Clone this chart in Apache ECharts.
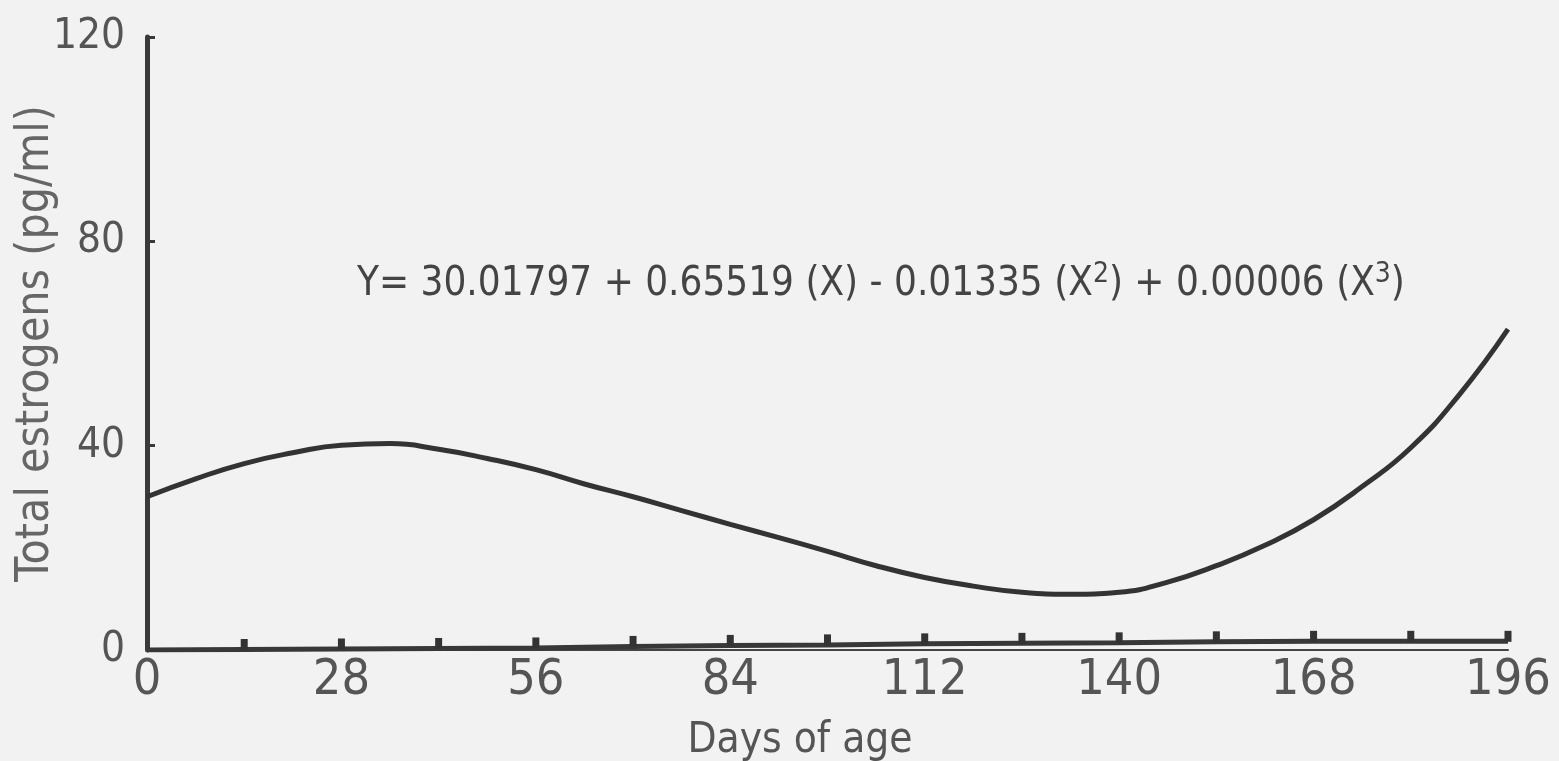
<!DOCTYPE html>
<html>
<head>
<meta charset="utf-8">
<script src="https://cdn.jsdelivr.net/npm/echarts@6/dist/echarts.min.js"></script>
<style>
html,body{margin:0;padding:0;background:#f2f2f2;}
#chart{width:1559px;height:761px;}
</style>
</head>
<body>
<div id="chart"></div>
<script>
// Fitted cubic curve, days of age vs total estrogens
const curveDays = [0,7,14,21,28,35,42,49,56,63,70,77,84,91,98,105,112,119,126,133,140,147,154,161,168,175,182,189,196];
const curveValues = [30.0,33.5,36.5,38.6,40.1,40.4,39.3,37.5,35.3,32.5,30.0,27.3,24.6,22.0,19.3,16.5,14.2,12.5,11.3,10.9,11.3,13.3,16.5,20.5,25.5,32.0,39.6,50.0,62.8];
// Near-zero observed series with small markers
const lowDays = [0,14,28,42,56,70,84,98,112,126,140,154,168,182,196];
const lowValues = [0,0.1,0.2,0.3,0.4,0.7,0.9,1.0,1.2,1.3,1.4,1.6,1.7,1.7,1.7];
const xTicks = [0,28,56,84,112,140,168,196];
const yTicks = [0,40,80,120];
const equationParts = ['Y= 30.01797 + 0.65519 (X) - 0.01335 (X', '2', ') + 0.00006 (X', '3', ')'];

const FONT = '"Liberation Sans Narrow","DejaVu Sans Condensed","Open Sans",sans-serif';
const chart = echarts.init(document.getElementById('chart'));
chart.setOption({
  backgroundColor: '#f2f2f2',
  animation: false,
  grid: {left: 147, right: 51, top: 37, bottom: 111, containLabel: false, outerBoundsMode: 'none'},
  xAxis: {
    type: 'value', min: 0, max: 196, interval: 28,
    name: 'Days of age', nameLocation: 'middle', nameGap: 70, nameMoveOverlap: false,
    nameTextStyle: {fontFamily: FONT, fontSize: 42, color: '#555', padding: [0, 55, 0, 0]},
    axisLine: {show: true, onZero: false, lineStyle: {color: '#444', width: 2}},
    axisTick: {show: false},
    splitLine: {show: false},
    axisLabel: {fontFamily: FONT, fontSize: 50, color: '#555', margin: 6,
      formatter: v => xTicks.includes(v) ? String(v) : ''}
  },
  yAxis: {
    type: 'value', min: 0, max: 120, interval: 40,
    name: 'Total estrogens (pg/ml)', nameLocation: 'middle', nameGap: 88, nameRotate: 90, nameMoveOverlap: false,
    nameTextStyle: {fontFamily: FONT, fontSize: 46, color: '#666'},
    axisLine: {show: true, lineStyle: {color: '#3a3a3a', width: 5}},
    axisTick: {show: true, inside: true, length: 8, lineStyle: {color: '#3a3a3a', width: 3}},
    splitLine: {show: false},
    axisLabel: {fontFamily: FONT, fontSize: 42, color: '#555', margin: 22,
      formatter: v => yTicks.includes(v) ? String(v) : ''}
  },
  graphic: [{
    type: 'text', left: 357, top: 261, silent: true,
    style: {
      rich: {
        m: {fontFamily: FONT, fontSize: 40, fill: '#444'},
        s: {fontFamily: FONT, fontSize: 28, fill: '#444', verticalAlign: 'top', padding: [0,0,20,0]}
      },
      text: '{m|' + equationParts[0] + '}{s|' + equationParts[1] + '}{m|' + equationParts[2] + '}{s|' + equationParts[3] + '}{m|' + equationParts[4] + '}'
    }
  }],
  series: [
    {
      type: 'line', smooth: true, showSymbol: false,
      data: curveDays.map((d, i) => [d, curveValues[i]]),
      lineStyle: {color: '#333', width: 5}
    },
    {
      type: 'line', smooth: false,
      data: lowDays.map((d, i) => i === 0 ? {value: [d, lowValues[i]], symbolSize: 0} : [d, lowValues[i]]),
      lineStyle: {color: '#383838', width: 5},
      symbol: 'rect', symbolSize: [7, 11], symbolOffset: [0, -5],
      itemStyle: {color: '#333'},
      showAllSymbol: true
    }
  ]
});
</script>
</body>
</html>
